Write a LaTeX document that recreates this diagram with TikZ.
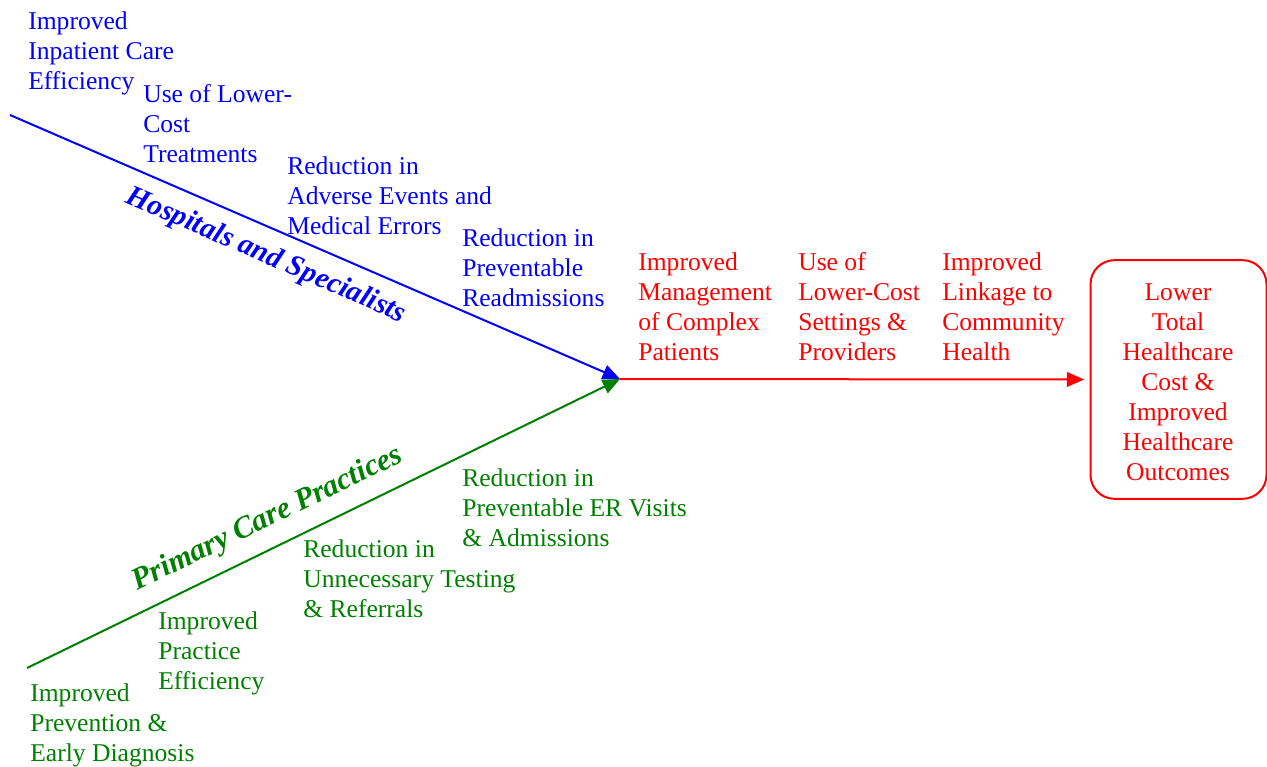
\documentclass[tikz,border=0pt]{standalone}
\usepackage{fontspec}
\setmainfont{Liberation Serif}
\usetikzlibrary{arrows.meta}
\definecolor{cblue}{RGB}{0,0,255}
\definecolor{cred}{RGB}{255,0,0}
\definecolor{cgreen}{RGB}{0,128,0}
\tikzset{
  lbl/.style={anchor=north west, inner sep=0pt, align=left, font=\fontsize{19.2pt}{22.5pt}\selectfont},
  bonelabel/.style={inner sep=0pt, font=\fontsize{22pt}{26pt}\selectfont\bfseries\itshape},
  bone/.style={line width=1.5pt},
  tip/.style={-{Triangle[length=13pt,width=11pt]}}
}
\begin{document}
\begin{tikzpicture}[x=0.75pt,y=-0.75pt]
\useasboundingbox (0,0) rectangle (1267,767);
\coordinate (hs) at (10,115);
\coordinate (pc) at (27,668);
\coordinate (j) at (620,379);
\node[draw=cred, line width=1.5pt, rounded corners=18pt, minimum width=132pt, minimum height=179pt, inner sep=0pt] (goal) at (1178.5,379.5) {};
\node[text=cred, align=center, inner sep=0pt, font=\fontsize{19.2pt}{22.5pt}\selectfont, anchor=north] (goaltext) at (1178,283) {Lower\\Total\\Healthcare\\Cost \&\\Improved\\Healthcare\\Outcomes};
\draw[bone, cblue, tip] (hs) -- (j);
\draw[bone, cgreen, tip] (pc) -- (j);
\draw[bone, cred, tip] (j) -- ([xshift=-4pt]goal.west);
% blue
\node[lbl, text=cblue] (b1) at (28,11) {Improved\\Inpatient Care\\Efficiency};
\node[lbl, text=cblue] (b2) at (143,84) {Use of Lower-\\Cost\\Treatments};
\node[lbl, text=cblue] (b3) at (287,156) {Reduction in\\Adverse Events and\\Medical Errors};
\node[lbl, text=cblue] (b4) at (462,228) {Reduction in\\Preventable\\Readmissions};
% red
\node[lbl, text=cred] (r1) at (638,252) {Improved\\Management\\of Complex\\Patients};
\node[lbl, text=cred] (r2) at (798,252) {Use of\\Lower-Cost\\Settings \&\\Providers};
\node[lbl, text=cred] (r3) at (942,252) {Improved\\Linkage to\\Community\\Health};
% green
\node[lbl, text=cgreen] (g1) at (462,468) {Reduction in\\Preventable ER Visits\\\& Admissions};
\node[lbl, text=cgreen] (g2) at (303,539) {Reduction in\\Unnecessary Testing\\\& Referrals};
\node[lbl, text=cgreen] (g3) at (158,611) {Improved\\Practice\\Efficiency};
\node[lbl, text=cgreen] (g4) at (30,683) {Improved\\Prevention \&\\Early Diagnosis};
% bone labels
\node[bonelabel, text=cblue, rotate=-23.5] (hl) at (266,256) {Hospitals and Specialists};
\node[bonelabel, text=cgreen, rotate=25.9, font=\fontsize{23pt}{27pt}\selectfont\bfseries\itshape] (pl) at (268,519) {Primary Care Practices};
\end{tikzpicture}
\end{document}
